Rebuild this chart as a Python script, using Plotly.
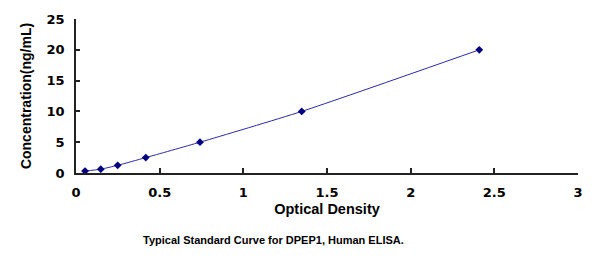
import plotly.graph_objects as go

od = [0.054, 0.148, 0.249, 0.417, 0.741, 1.349, 2.41]
conc = [0.312, 0.625, 1.25, 2.5, 5, 10, 20]
x_ticks = [0, 0.5, 1, 1.5, 2, 2.5, 3]
y_ticks = [0, 5, 10, 15, 20, 25]

fig = go.Figure()
fig.add_trace(go.Scatter(
    x=od, y=conc, mode="lines+markers",
    line=dict(color="#2a2aa8", width=1, shape="spline", smoothing=0.6),
    marker=dict(symbol="diamond", size=6, color="#000080"),
))

font_family = "Liberation Sans, Arial, sans-serif"
tick_family = "DejaVu Sans, Verdana, sans-serif"
fig.update_layout(
    width=600, height=257,
    margin=dict(l=76, r=22, t=19, b=84),
    paper_bgcolor="white", plot_bgcolor="white",
    showlegend=False,
    font=dict(family=font_family, color="black"),
    xaxis=dict(
        range=[0, 3], tickvals=x_ticks, ticktext=[str(v) for v in x_ticks],
        ticks="inside", ticklen=5, tickwidth=1.5, tickcolor="#222",
        showline=True, linecolor="#222", linewidth=1.5, showgrid=False, zeroline=False,
        tickfont=dict(size=13, weight="bold", family=tick_family),
        ticklabelstandoff=7,
        title=dict(text="Optical Density", font=dict(size=14.5, weight="bold", family=font_family), standoff=5),
    ),
    yaxis=dict(
        range=[0, 25], tickvals=y_ticks, ticktext=[str(v) for v in y_ticks],
        ticks="inside", ticklen=4, tickwidth=1.5, tickcolor="#222",
        showline=True, linecolor="#222", linewidth=1.5, showgrid=False, zeroline=False,
        tickfont=dict(size=13, weight="bold", family=tick_family),
        ticklabelstandoff=7,
        title=dict(text="Concentration(ng/mL)", font=dict(size=14, weight="bold", family=font_family), standoff=12),
    ),
    annotations=[dict(
        text="Typical Standard Curve for DPEP1, Human ELISA.",
        xref="paper", yref="paper", x=(273.5 - 76) / 502, y=-0.435,
        xanchor="center", yanchor="middle", showarrow=False,
        font=dict(size=11, weight="bold", family=font_family),
    )],
)
fig.write_html("out.html")
